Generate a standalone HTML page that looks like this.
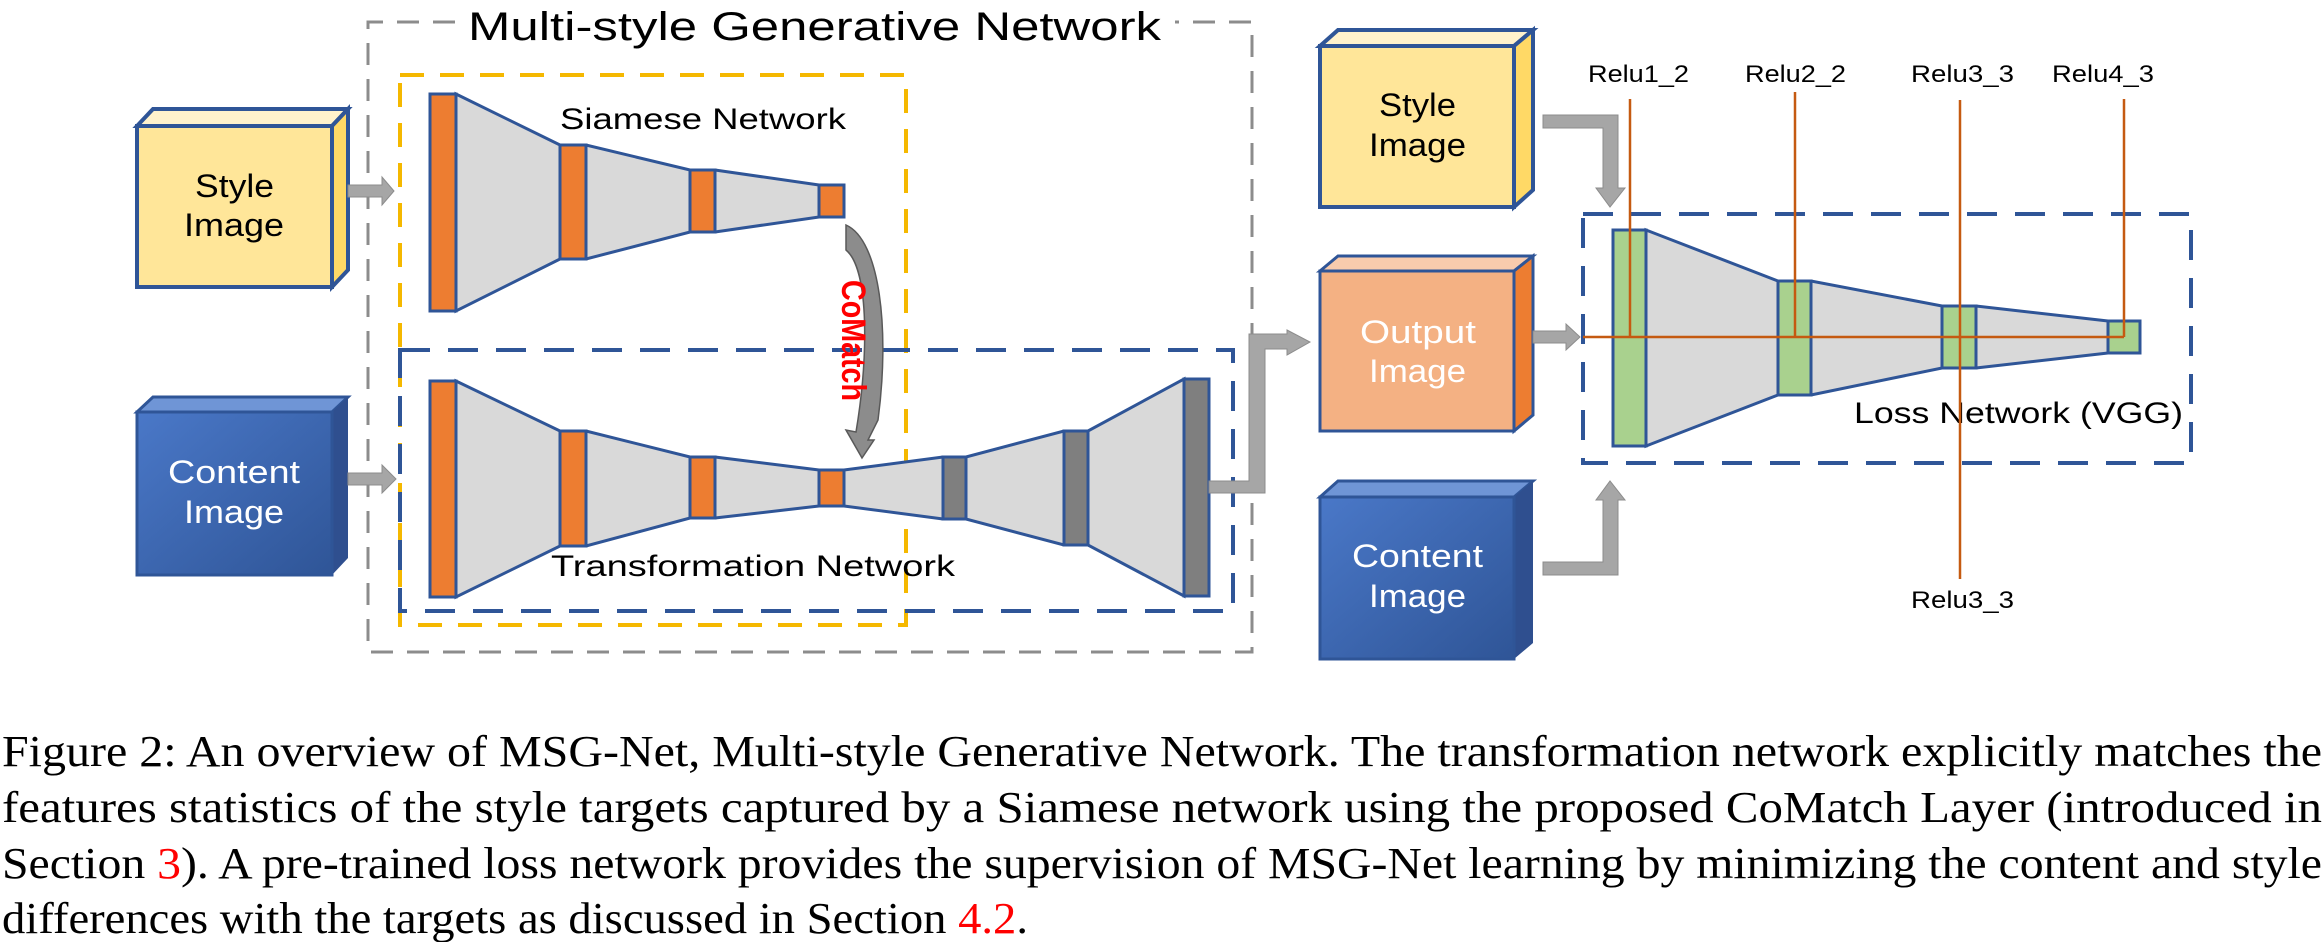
<!DOCTYPE html>
<html><head><meta charset="utf-8"><style>
html,body{margin:0;padding:0;background:#fff;width:2324px;height:942px;overflow:hidden}
svg{display:block}
.c{font-family:"Liberation Sans",sans-serif}
.t{font-family:"Liberation Serif",serif;font-size:44px;fill:#000}
</style></head><body>
<svg width="2324" height="942" viewBox="0 0 2324 942" xmlns="http://www.w3.org/2000/svg">
<defs>
<linearGradient id="bl" x1="0" y1="0" x2="1" y2="1"><stop offset="0" stop-color="#4a78c8"/><stop offset="1" stop-color="#2f5597"/></linearGradient>
</defs>
<!-- outer gray dashed box -->
<path d="M455 22 L368 22 L368 652 L1252 652 L1252 22 L1175 22" fill="none" stroke="#8c8c8c" stroke-width="3" stroke-dasharray="22,14"/>
<text x="468" y="40" class="c" font-size="40" textLength="693" lengthAdjust="spacingAndGlyphs">Multi-style Generative Network</text>
<!-- yellow dashed -->
<rect x="400" y="75" width="506" height="550" fill="none" stroke="#f5b800" stroke-width="4" stroke-dasharray="24,16"/>

<!-- left style image cube -->
<polygon points="137,126 153,109 348,109 332,126" fill="#fff2cc" stroke="#2f5597" stroke-width="4"/>
<polygon points="332,126 348,109 348,270 332,287" fill="#ffd966" stroke="#2f5597" stroke-width="4"/>
<rect x="137" y="126" width="195" height="161" fill="#ffe699" stroke="#2f5597" stroke-width="4"/>
<text x="195" y="197" class="c" font-size="32" textLength="79" lengthAdjust="spacingAndGlyphs">Style</text>
<text x="184" y="236" class="c" font-size="32" textLength="100" lengthAdjust="spacingAndGlyphs">Image</text>
<!-- left content cube -->
<polygon points="137,412 153,397 348,397 332,412" fill="#6f95d6" stroke="#2f5597" stroke-width="3"/>
<polygon points="332,412 348,397 348,558 332,575" fill="#2f4f8f"/>
<rect x="137" y="412" width="195" height="163" fill="url(#bl)" stroke="#2f5597" stroke-width="3"/>
<text x="168" y="483" class="c" font-size="32" fill="#fff" textLength="132" lengthAdjust="spacingAndGlyphs">Content</text>
<text x="184" y="523" class="c" font-size="32" fill="#fff" textLength="100" lengthAdjust="spacingAndGlyphs">Image</text>

<!-- gray input arrows -->
<polygon points="348,185 382,185 382,177 394,191 382,205 382,197 348,197" fill="#a6a6a6" stroke="#8c8c8c"/>
<polygon points="348,473 382,473 382,465 396,479 382,493 382,485 348,485" fill="#a6a6a6" stroke="#8c8c8c"/>

<!-- siamese network -->
<polygon points="456,94 560,145 586,145 690,170 715,170 819,185 844,185 844,217 819,217 715,232 690,232 586,259 560,259 456,311" fill="#d9d9d9" stroke="#2f5597" stroke-width="3"/>
<rect x="430" y="94" width="26" height="217" fill="#ed7d31" stroke="#2f5597" stroke-width="3"/>
<rect x="560" y="145" width="26" height="114" fill="#ed7d31" stroke="#2f5597" stroke-width="3"/>
<rect x="690" y="170" width="25" height="62" fill="#ed7d31" stroke="#2f5597" stroke-width="3"/>
<rect x="819" y="185" width="25" height="32" fill="#ed7d31" stroke="#2f5597" stroke-width="3"/>
<text x="560" y="129" class="c" font-size="30" textLength="286" lengthAdjust="spacingAndGlyphs">Siamese Network</text>

<!-- blue transformation dashed box -->
<rect x="400" y="350" width="833" height="261" fill="none" stroke="#2f5597" stroke-width="4" stroke-dasharray="30,18"/>
<!-- transformation network -->
<polygon points="456,381 560,431 586,431 690,457 715,457 819,470 844,470 943,457 966,457 1064,431 1088,431 1184,379 1184,596 1088,545 1064,545 966,519 943,519 844,506 819,506 715,518 690,518 586,546 560,546 456,597" fill="#d9d9d9" stroke="#2f5597" stroke-width="3"/>
<rect x="430" y="381" width="26" height="216" fill="#ed7d31" stroke="#2f5597" stroke-width="3"/>
<rect x="560" y="431" width="26" height="115" fill="#ed7d31" stroke="#2f5597" stroke-width="3"/>
<rect x="690" y="457" width="25" height="61" fill="#ed7d31" stroke="#2f5597" stroke-width="3"/>
<rect x="819" y="470" width="25" height="36" fill="#ed7d31" stroke="#2f5597" stroke-width="3"/>
<rect x="943" y="457" width="23" height="62" fill="#7f7f7f" stroke="#2f5597" stroke-width="3"/>
<rect x="1064" y="431" width="24" height="114" fill="#7f7f7f" stroke="#2f5597" stroke-width="3"/>
<rect x="1184" y="379" width="25" height="217" fill="#7f7f7f" stroke="#2f5597" stroke-width="3"/>
<text x="551" y="576" class="c" font-size="30" textLength="404" lengthAdjust="spacingAndGlyphs">Transformation Network</text>

<!-- CoMatch curved arrow -->
<path d="M846,225 C 880,240 890,330 878,420 L 868,440 L 874,440 L 862,458 L 846,430 L 856,432 C 868,360 870,270 846,250 Z" fill="#8c8c8c" stroke="#595959" stroke-width="1.5"/>
<text x="0" y="0" transform="translate(842,280) rotate(90)" class="c" font-size="34" font-weight="bold" fill="#ff0000" textLength="121" lengthAdjust="spacingAndGlyphs">CoMatch</text>

<!-- output arrow -->
<polygon points="1209,481 1249,481 1249,334 1287,334 1287,330 1310,342 1287,355 1287,349 1265,349 1265,493 1209,493" fill="#a6a6a6" stroke="#8c8c8c"/>

<!-- right cubes -->
<polygon points="1320,46 1338,30 1533,30 1514,46" fill="#fff2cc" stroke="#2f5597" stroke-width="4"/>
<polygon points="1514,46 1533,30 1533,190 1514,207" fill="#ffd966" stroke="#2f5597" stroke-width="4"/>
<rect x="1320" y="46" width="194" height="161" fill="#ffe699" stroke="#2f5597" stroke-width="4"/>
<text x="1379" y="116" class="c" font-size="32" textLength="77" lengthAdjust="spacingAndGlyphs">Style</text>
<text x="1369" y="156" class="c" font-size="32" textLength="97" lengthAdjust="spacingAndGlyphs">Image</text>

<polygon points="1320,271 1338,256 1533,256 1514,271" fill="#f8cbad" stroke="#2f5597" stroke-width="3"/>
<polygon points="1514,271 1533,256 1533,415 1514,431" fill="#ed7d31" stroke="#2f5597" stroke-width="3"/>
<rect x="1320" y="271" width="194" height="160" fill="#f4b183" stroke="#2f5597" stroke-width="3"/>
<text x="1360" y="343" class="c" font-size="32" fill="#fff" textLength="116" lengthAdjust="spacingAndGlyphs">Output</text>
<text x="1369" y="382" class="c" font-size="32" fill="#fff" textLength="97" lengthAdjust="spacingAndGlyphs">Image</text>

<polygon points="1320,497 1338,481 1533,481 1514,497" fill="#6f95d6" stroke="#2f5597" stroke-width="3"/>
<polygon points="1514,497 1533,481 1533,643 1514,659" fill="#2f4f8f"/>
<rect x="1320" y="497" width="194" height="162" fill="url(#bl)" stroke="#2f5597" stroke-width="3"/>
<text x="1352" y="567" class="c" font-size="32" fill="#fff" textLength="131" lengthAdjust="spacingAndGlyphs">Content</text>
<text x="1369" y="607" class="c" font-size="32" fill="#fff" textLength="97" lengthAdjust="spacingAndGlyphs">Image</text>

<!-- right arrows -->
<polygon points="1543,115 1618,115 1618,188 1625,188 1610,207 1596,188 1603,188 1603,128 1543,128" fill="#a6a6a6" stroke="#8c8c8c"/>
<polygon points="1543,562 1603,562 1603,500 1596,500 1610,481 1625,500 1618,500 1618,575 1543,575" fill="#a6a6a6" stroke="#8c8c8c"/>
<polygon points="1533,331 1566,331 1566,324 1580,337 1566,350 1566,343 1533,343" fill="#a6a6a6" stroke="#8c8c8c"/>

<!-- loss network box -->
<rect x="1583" y="214" width="608" height="249" fill="none" stroke="#2f5597" stroke-width="4" stroke-dasharray="30,18"/>
<polygon points="1646,230 1778,281 1811,281 1942,306 1976,306 2108,321 2140,321 2140,353 2108,353 1976,368 1942,368 1811,395 1778,395 1646,446" fill="#d9d9d9" stroke="#2f5597" stroke-width="3"/>
<rect x="1613" y="230" width="33" height="216" fill="#a9d18e" stroke="#2f5597" stroke-width="3"/>
<rect x="1778" y="281" width="33" height="114" fill="#a9d18e" stroke="#2f5597" stroke-width="3"/>
<rect x="1942" y="306" width="34" height="62" fill="#a9d18e" stroke="#2f5597" stroke-width="3"/>
<rect x="2108" y="321" width="32" height="32" fill="#a9d18e" stroke="#2f5597" stroke-width="3"/>
<text x="1854" y="423" class="c" font-size="30" textLength="329" lengthAdjust="spacingAndGlyphs">Loss Network (VGG)</text>

<!-- relu lines -->
<g stroke="#c55a11" stroke-width="2.5" fill="none">
<line x1="1583" y1="337" x2="2124" y2="337"/>
<line x1="1630" y1="99" x2="1630" y2="337"/>
<line x1="1795" y1="92" x2="1795" y2="337"/>
<line x1="1960" y1="100" x2="1960" y2="579"/>
<line x1="2124" y1="99" x2="2124" y2="337"/>
</g>
<g class="c" font-size="24">
<text x="1588" y="82" textLength="101" lengthAdjust="spacingAndGlyphs">Relu1_2</text>
<text x="1745" y="82" textLength="101" lengthAdjust="spacingAndGlyphs">Relu2_2</text>
<text x="1911" y="82" textLength="103" lengthAdjust="spacingAndGlyphs">Relu3_3</text>
<text x="2052" y="82" textLength="102" lengthAdjust="spacingAndGlyphs">Relu4_3</text>
<text x="1911" y="608" textLength="103" lengthAdjust="spacingAndGlyphs">Relu3_3</text>
</g>

<!-- caption -->
<text x="2" y="766" class="t" textLength="2320" lengthAdjust="spacingAndGlyphs">Figure 2:  An overview of MSG-Net, Multi-style Generative Network.  The transformation network explicitly matches the</text>
<text x="2" y="822" class="t" textLength="2320" lengthAdjust="spacingAndGlyphs">features statistics of the style targets captured by a Siamese network using the proposed CoMatch Layer (introduced in</text>
<text x="2" y="878" class="t" textLength="2320" lengthAdjust="spacingAndGlyphs">Section <tspan fill="#ff0000">3</tspan>).  A pre-trained loss network provides the supervision of MSG-Net learning by minimizing the content and style</text>
<text x="2" y="933" class="t" textLength="1026" lengthAdjust="spacingAndGlyphs">differences with the targets as discussed in Section <tspan fill="#ff0000">4.2</tspan>.</text>
</svg>
</body></html>
